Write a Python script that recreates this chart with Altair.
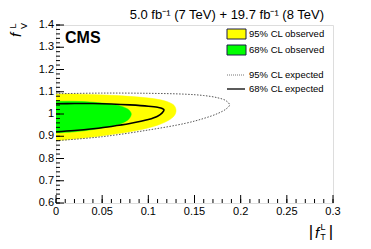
import altair as alt
import pandas as pd

# ---- contour data ----
# 95% CL observed (yellow fill)
obs95_x = [0.0, 0.03, 0.06, 0.09, 0.11, 0.122, 0.128, 0.130]
obs95_up = [1.090, 1.089, 1.084, 1.076, 1.066, 1.053, 1.038, 1.015]
obs95_lo = [0.880, 0.892, 0.908, 0.928, 0.950, 0.972, 0.992, 1.015]
# 68% CL observed (green fill)
obs68_x = [0.0, 0.02, 0.04, 0.06, 0.072, 0.079, 0.0815]
obs68_up = [1.057, 1.057, 1.053, 1.044, 1.033, 1.018, 1.000]
obs68_lo = [0.915, 0.920, 0.930, 0.945, 0.960, 0.978, 1.000]
# 68% CL expected (solid black)
exp68_x = [0.0, 0.02, 0.04, 0.06, 0.08, 0.10, 0.11, 0.115, 0.117]
exp68_up = [1.046, 1.047, 1.047, 1.045, 1.041, 1.035, 1.030, 1.025, 1.018]
exp68_lo = [0.920, 0.926, 0.934, 0.944, 0.957, 0.975, 0.990, 1.005, 1.018]
# 95% CL expected (dotted)
exp95_x = [0.0, 0.05, 0.10, 0.14, 0.16, 0.175, 0.184, 0.188]
exp95_up = [1.091, 1.094, 1.093, 1.089, 1.083, 1.073, 1.060, 1.041]
exp95_lo = [0.880, 0.898, 0.928, 0.958, 0.980, 1.002, 1.022, 1.041]

x_major = [0.0, 0.05, 0.1, 0.15, 0.2, 0.25, 0.3]
x_labels = ["0", "0.05", "0.1", "0.15", "0.2", "0.25", "0.3"]
y_major = [0.6, 0.7, 0.8, 0.9, 1.0, 1.1, 1.2, 1.3, 1.4]
y_labels = ["0.6", "0.7", "0.8", "0.9", "1", "1.1", "1.2", "1.3", "1.4"]
x_minor = [round(i * 0.01, 3) for i in range(0, 31)]
y_minor = [round(0.6 + i * 0.02, 3) for i in range(0, 41)]

legend_labels = ["95% CL observed", "68% CL observed", "95% CL expected", "68% CL expected"]


def closed(xs, ups, los):
    pts = [(x, u) for x, u in zip(xs, ups)]
    pts += [(x, l) for x, l in reversed(list(zip(xs, los)))][1:]
    return pd.DataFrame({"x": [p[0] for p in pts], "y": [p[1] for p in pts],
                         "o": list(range(len(pts)))})


W, H = 277, 178
FONT = "Liberation Sans"
xs = alt.Scale(domain=[0, 0.3], nice=False, zero=False)
ys = alt.Scale(domain=[0.6, 1.4], nice=False, zero=False)


def shape(df, **kw):
    return alt.Chart(df).mark_line(interpolate="catmull-rom", **kw).encode(
        x=alt.X("x:Q", scale=xs, axis=None),
        y=alt.Y("y:Q", scale=ys, axis=None),
        order="o:Q")


yellow = shape(closed(obs95_x, obs95_up, obs95_lo), fill="#ffff00", stroke="#ffff00", strokeWidth=0.5)
green = shape(closed(obs68_x, obs68_up, obs68_lo), fill="#00ff00", stroke="#00ff00", strokeWidth=0.5)
e95 = shape(closed(exp95_x, exp95_up, exp95_lo), stroke="#555555", strokeWidth=1, strokeDash=[1.5, 1.5])
e68 = shape(closed(exp68_x, exp68_up, exp68_lo), stroke="#000000", strokeWidth=1.6)

# inward ticks
xt_major = alt.Chart(pd.DataFrame({"x": x_major})).mark_rule(color="black", strokeWidth=1).encode(
    x=alt.X("x:Q", scale=xs), y=alt.value(H), y2=alt.value(H - 8))
xt_minor = alt.Chart(pd.DataFrame({"x": x_minor})).mark_rule(color="black", strokeWidth=1).encode(
    x=alt.X("x:Q", scale=xs), y=alt.value(H), y2=alt.value(H - 4))
yt_major = alt.Chart(pd.DataFrame({"y": y_major})).mark_rule(color="black", strokeWidth=1).encode(
    y=alt.Y("y:Q", scale=ys), x=alt.value(0), x2=alt.value(8))
yt_minor = alt.Chart(pd.DataFrame({"y": y_minor})).mark_rule(color="black", strokeWidth=1).encode(
    y=alt.Y("y:Q", scale=ys), x=alt.value(0), x2=alt.value(4))

# tick labels
xl = alt.Chart(pd.DataFrame({"x": x_major, "t": x_labels})).mark_text(
    font=FONT, fontSize=11, color="black", align="center", baseline="top").encode(
    x=alt.X("x:Q", scale=xs), y=alt.value(H + 3), text="t:N")
yl = alt.Chart(pd.DataFrame({"y": y_major, "t": y_labels})).mark_text(
    font=FONT, fontSize=11, color="black", align="right", baseline="middle").encode(
    y=alt.Y("y:Q", scale=ys), x=alt.value(-2), text="t:N")


def txt(s, x, y, size=11, **kw):
    return alt.Chart(pd.DataFrame({"t": [s]})).mark_text(
        font=FONT, fontSize=size, color="black", **kw).encode(
        text="t:N", x=alt.value(x), y=alt.value(y))


title = txt("5.0 fb\u207b\u00b9 (7 TeV) + 19.7 fb\u207b\u00b9 (8 TeV)", 268, -6, size=13,
            align="right", baseline="alphabetic")
cms = txt("CMS", 9, 18, size=16, fontWeight="bold", align="left", baseline="alphabetic")

# legend
leg_boxes = alt.Chart(pd.DataFrame({
    "y1": [4, 20], "y2": [14, 30], "c": ["#ffff00", "#00ff00"]})).mark_rect(
    stroke="#1a1a4a", strokeWidth=1).encode(
    x=alt.value(171), x2=alt.value(190), y=alt.Y("y1:Q", scale=None), y2="y2:Q",
    fill=alt.Fill("c:N", scale=None))
leg_dot = alt.Chart(pd.DataFrame({"a": [0]})).mark_rule(
    color="#777777", strokeDash=[1, 1], strokeWidth=1).encode(
    x=alt.value(171), x2=alt.value(189), y=alt.value(50))
leg_sol = alt.Chart(pd.DataFrame({"a": [0]})).mark_rule(
    color="#333333", strokeWidth=1.6).encode(
    x=alt.value(171), x2=alt.value(189), y=alt.value(64))
leg_txt = [txt(s, 193, yy, size=9.5, align="left", baseline="middle")
           for s, yy in zip(legend_labels, [9, 25, 50, 64])]

# axis titles
ytitle = [
    txt("f", -40, 10, size=15, fontStyle="italic", angle=270, align="center", baseline="middle"),
    txt("L", -43, 1, size=9, angle=270, align="center", baseline="middle"),
    txt("V", -32, 1, size=9, angle=270, align="center", baseline="middle"),
]
xtitle = [
    txt("|", 255, 207, size=17, align="center", baseline="middle"),
    txt("f", 261, 208, size=15, fontStyle="italic", align="center", baseline="middle"),
    txt("L", 267, 202, size=9, align="center", baseline="middle"),
    txt("T", 267, 212, size=9, align="center", baseline="middle"),
    txt("|", 275, 207, size=17, align="center", baseline="middle"),
]

chart = alt.layer(
    yellow, green, e95, e68, xt_major, xt_minor, yt_major, yt_minor, xl, yl,
    title, cms, leg_boxes, leg_dot, leg_sol, *leg_txt, *ytitle, *xtitle
).properties(
    width=W, height=H,
    autosize=alt.AutoSizeParams(type="none"),
    padding={"left": 48, "top": 17, "right": 30, "bottom": 38},
).configure_view(stroke="black", strokeWidth=1).configure(background="white")

chart.save("out.html", embed_options={"renderer": "svg", "actions": False})
